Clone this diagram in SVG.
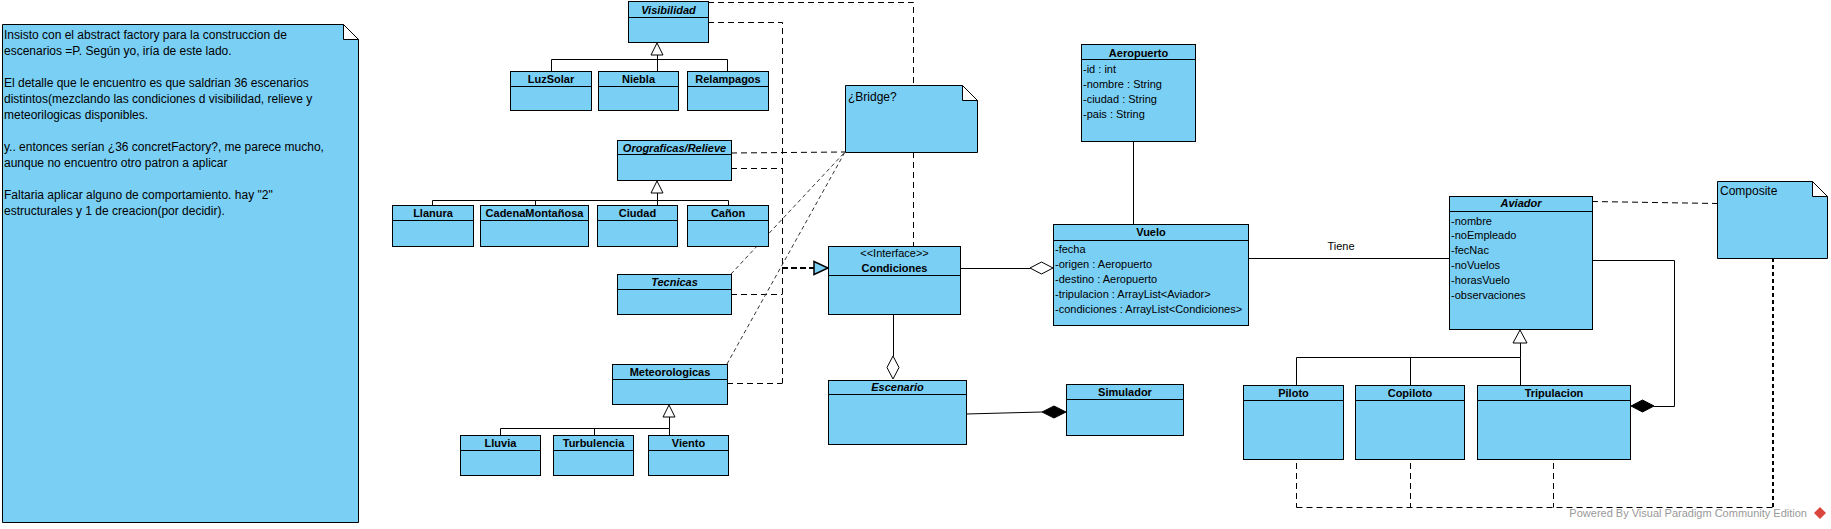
<svg xmlns="http://www.w3.org/2000/svg" width="1831" height="529" viewBox="0 0 1831 529">
<style>
.box{fill:#7ACFF5;stroke:#000;stroke-width:1}
.hl{stroke:#000;stroke-width:1;fill:none}
.t{font-family:"Liberation Sans",Arial,sans-serif;font-size:11px;fill:#000}
.b{font-weight:bold;text-anchor:middle}
.i{font-style:italic}
.n{font-size:12px}
.ln{fill:none;stroke:#000;stroke-width:1}
.ds{fill:none;stroke:#000;stroke-width:1;stroke-dasharray:6,4}
.dt{fill:none;stroke:#333;stroke-width:1;stroke-dasharray:4,3}
.tri{fill:#fff;stroke:#000;stroke-width:1}
.hd{fill:#fff;stroke:#000;stroke-width:1}
.fd{fill:#000;stroke:#000;stroke-width:1}
.flap{fill:#fff;stroke:#000;stroke-width:1}
</style>
<rect width="1831" height="529" fill="#fff"/>

<g id="connectors">
  <!-- generalizations -->
  <polygon class="tri" points="657,43 651,55 663,55"/>
  <path class="ln" d="M657.5,55 V59.5 M551.5,59.5 H727.5 M551.5,59.5 V71 M657.5,59.5 V71 M727.5,59.5 V71"/>
  <polygon class="tri" points="657,181 651,193 663,193"/>
  <path class="ln" d="M657.5,193 V200.5 M432.5,200.5 H728.5 M432.5,200.5 V205 M535.5,200.5 V205 M657.5,200.5 V205 M728.5,200.5 V205"/>
  <polygon class="tri" points="669,405 663,417 675,417"/>
  <path class="ln" d="M669.5,417 V428.5 M500.5,428.5 H669.5 M500.5,428.5 V435 M594.5,428.5 V435 M669.5,428.5 V435"/>
  <polygon class="tri" points="1520,330 1513,343 1527,343"/>
  <path class="ln" d="M1520.5,343 V357.5 M1296.5,357.5 H1520.5 M1296.5,357.5 V385 M1410.5,357.5 V385 M1520.5,357.5 V385"/>
  <!-- dependencies to Condiciones / Bridge -->
  <path class="ds" d="M708,2.5 H913.5 V85 M913.5,152 V246"/>
  <path class="ds" d="M708,22.5 H782.5 V383"/>
  <path class="ds" d="M731,153 L845,152"/>
  <path class="ds" d="M731,168.5 H782.5"/>
  <path class="ds" d="M731,294.5 H782.5"/>
  <path class="ds" d="M727,383.5 H782.5"/>
  <path class="dt" d="M731,274 L845,152 M727,364 L845,152"/>
  <path fill="none" stroke="#000" stroke-width="2" stroke-dasharray="6,3" d="M782,268 H814"/>
  <polygon points="814,261.5 828,268 814,274.5" fill="#7ACFF5" stroke="#000" stroke-width="1.5"/>
  <!-- associations -->
  <path class="ln" d="M960,268.5 H1030"/>
  <polygon class="hd" points="1030,268 1041.5,262 1053,268 1041.5,274"/>
  <path class="ln" d="M893.5,314 V356"/>
  <polygon class="hd" points="893,356 899,367.5 893,379 887,367.5"/>
  <path class="ln" d="M966,414 L1042,412"/>
  <polygon class="fd" points="1042,412 1054,406 1066,412 1054,418"/>
  <path class="ln" d="M1133.5,141 V224"/>
  <path class="ln" d="M1248,258.5 H1449"/>
  <text class="t" x="1341" y="250" text-anchor="middle">Tiene</text>
  <path class="ln" d="M1592,260.5 H1674.5 V406.5 H1654"/>
  <polygon class="fd" points="1631,406 1642.5,400 1654,406 1642.5,412"/>
  <!-- composite note links -->
  <path class="ds" d="M1592,201.5 L1717,203.5"/>
  <path fill="none" stroke="#000" stroke-width="2" stroke-dasharray="4,3" d="M1773,258 V507"/>
  <path class="ds" d="M1296.5,507.5 H1773 M1296.5,463 V507.5 M1410.5,463 V507.5 M1553.5,463 V507.5"/>
</g>

<g id="note-main">
  <path class="box" d="M2.5,24.5 H343.5 L358.5,39.5 V522.5 H2.5 Z"/>
  <path class="flap" d="M343.5,24.5 V39.5 H358.5 Z"/>
  <text class="t n" x="4" y="39">Insisto con el abstract factory para la construccion de</text>
  <text class="t n" x="4" y="55">escenarios =P. Según yo, iría de este lado.</text>
  <text class="t n" x="4" y="87">El detalle que le encuentro es que saldrian 36 escenarios</text>
  <text class="t n" x="4" y="103">distintos(mezclando las condiciones d visibilidad, relieve y</text>
  <text class="t n" x="4" y="119">meteorilogicas disponibles.</text>
  <text class="t n" x="4" y="151">y.. entonces serían ¿36 concretFactory?, me parece mucho,</text>
  <text class="t n" x="4" y="167">aunque no encuentro otro patron a aplicar</text>
  <text class="t n" x="4" y="199">Faltaria aplicar alguno de comportamiento. hay "2"</text>
  <text class="t n" x="4" y="215">estructurales y 1 de creacion(por decidir).</text>
</g>

<g id="note-bridge">
  <path class="box" d="M845.5,85.5 H962.5 L977.5,100.5 V152.5 H845.5 Z"/>
  <path class="flap" d="M962.5,85.5 V100.5 H977.5 Z"/>
  <text class="t n" x="848" y="101">¿Bridge?</text>
</g>

<g id="note-composite">
  <path class="box" d="M1717.5,181.5 H1812.5 L1827.5,196.5 V258.5 H1717.5 Z"/>
  <path class="flap" d="M1812.5,181.5 V196.5 H1827.5 Z"/>
  <text class="t n" x="1720" y="195">Composite</text>
</g>

<g id="Visibilidad">
  <rect class="box" x="628.5" y="1.5" width="80" height="41"/>
  <path class="hl" d="M628.5,17.5 H708.5"/>
  <text class="t b i" x="668.5" y="14">Visibilidad</text>
</g>
<g id="LuzSolar">
  <rect class="box" x="510.5" y="71.5" width="81" height="39"/>
  <path class="hl" d="M510.5,86.5 H591.5"/>
  <text class="t b" x="551" y="83">LuzSolar</text>
</g>
<g id="Niebla">
  <rect class="box" x="598.5" y="71.5" width="80" height="39"/>
  <path class="hl" d="M598.5,86.5 H678.5"/>
  <text class="t b" x="638.5" y="83">Niebla</text>
</g>
<g id="Relampagos">
  <rect class="box" x="687.5" y="71.5" width="81" height="39"/>
  <path class="hl" d="M687.5,86.5 H768.5"/>
  <text class="t b" x="728" y="83">Relampagos</text>
</g>

<g id="Orograficas">
  <rect class="box" x="617.5" y="140.5" width="114" height="40"/>
  <path class="hl" d="M617.5,154.5 H731.5"/>
  <text class="t b i" x="674.5" y="152">Orograficas/Relieve</text>
</g>
<g id="Llanura">
  <rect class="box" x="392.5" y="205.5" width="81" height="41"/>
  <path class="hl" d="M392.5,220.5 H473.5"/>
  <text class="t b" x="433" y="217">Llanura</text>
</g>
<g id="CadenaMontanosa">
  <rect class="box" x="480.5" y="205.5" width="108" height="41"/>
  <path class="hl" d="M480.5,220.5 H588.5"/>
  <text class="t b" x="534.5" y="217">CadenaMontañosa</text>
</g>
<g id="Ciudad">
  <rect class="box" x="597.5" y="205.5" width="80" height="41"/>
  <path class="hl" d="M597.5,220.5 H677.5"/>
  <text class="t b" x="637.5" y="217">Ciudad</text>
</g>
<g id="Canon">
  <rect class="box" x="687.5" y="205.5" width="81" height="41"/>
  <path class="hl" d="M687.5,220.5 H768.5"/>
  <text class="t b" x="728" y="217">Cañon</text>
</g>

<g id="Tecnicas">
  <rect class="box" x="617.5" y="274.5" width="114" height="40"/>
  <path class="hl" d="M617.5,289.5 H731.5"/>
  <text class="t b i" x="674.5" y="286">Tecnicas</text>
</g>

<g id="Meteorologicas">
  <rect class="box" x="612.5" y="364.5" width="115" height="40"/>
  <path class="hl" d="M612.5,379.5 H727.5"/>
  <text class="t b" x="670" y="376">Meteorologicas</text>
</g>
<g id="Lluvia">
  <rect class="box" x="460.5" y="435.5" width="80" height="40"/>
  <path class="hl" d="M460.5,450.5 H540.5"/>
  <text class="t b" x="500.5" y="447">Lluvia</text>
</g>
<g id="Turbulencia">
  <rect class="box" x="553.5" y="435.5" width="80" height="40"/>
  <path class="hl" d="M553.5,450.5 H633.5"/>
  <text class="t b" x="593.5" y="447">Turbulencia</text>
</g>
<g id="Viento">
  <rect class="box" x="648.5" y="435.5" width="80" height="40"/>
  <path class="hl" d="M648.5,450.5 H728.5"/>
  <text class="t b" x="688.5" y="447">Viento</text>
</g>

<g id="Condiciones">
  <rect class="box" x="828.5" y="246.5" width="132" height="68"/>
  <path class="hl" d="M828.5,275.5 H960.5"/>
  <text class="t" x="894.5" y="257" text-anchor="middle">&lt;&lt;Interface&gt;&gt;</text>
  <text class="t b" x="894.5" y="272">Condiciones</text>
</g>

<g id="Escenario">
  <rect class="box" x="828.5" y="380.5" width="138" height="64"/>
  <path class="hl" d="M828.5,394.5 H966.5"/>
  <text class="t b i" x="897.5" y="391">Escenario</text>
</g>

<g id="Simulador">
  <rect class="box" x="1066.5" y="384.5" width="117" height="51"/>
  <path class="hl" d="M1066.5,399.5 H1183.5"/>
  <text class="t b" x="1125" y="396">Simulador</text>
</g>

<g id="Aeropuerto">
  <rect class="box" x="1081.5" y="44.5" width="114" height="97"/>
  <path class="hl" d="M1081.5,59.5 H1195.5"/>
  <text class="t b" x="1138.5" y="57">Aeropuerto</text>
  <text class="t" x="1083" y="73">-id : int</text>
  <text class="t" x="1083" y="88">-nombre : String</text>
  <text class="t" x="1083" y="103">-ciudad : String</text>
  <text class="t" x="1083" y="118">-pais : String</text>
</g>

<g id="Vuelo">
  <rect class="box" x="1053.5" y="224.5" width="195" height="101"/>
  <path class="hl" d="M1053.5,240.5 H1248.5"/>
  <text class="t b" x="1151" y="236">Vuelo</text>
  <text class="t" x="1055" y="253">-fecha</text>
  <text class="t" x="1055" y="268">-origen : Aeropuerto</text>
  <text class="t" x="1055" y="283">-destino : Aeropuerto</text>
  <text class="t" x="1055" y="298">-tripulacion : ArrayList&lt;Aviador&gt;</text>
  <text class="t" x="1055" y="313">-condiciones : ArrayList&lt;Condiciones&gt;</text>
</g>

<g id="Aviador">
  <rect class="box" x="1449.5" y="196.5" width="143" height="133"/>
  <path class="hl" d="M1449.5,211.5 H1592.5"/>
  <text class="t b i" x="1521" y="207">Aviador</text>
  <text class="t" x="1451" y="225">-nombre</text>
  <text class="t" x="1451" y="239">-noEmpleado</text>
  <text class="t" x="1451" y="254">-fecNac</text>
  <text class="t" x="1451" y="269">-noVuelos</text>
  <text class="t" x="1451" y="284">-horasVuelo</text>
  <text class="t" x="1451" y="299">-observaciones</text>
</g>

<g id="Piloto">
  <rect class="box" x="1243.5" y="385.5" width="100" height="74"/>
  <path class="hl" d="M1243.5,400.5 H1343.5"/>
  <text class="t b" x="1293.5" y="397">Piloto</text>
</g>
<g id="Copiloto">
  <rect class="box" x="1355.5" y="385.5" width="109" height="74"/>
  <path class="hl" d="M1355.5,400.5 H1464.5"/>
  <text class="t b" x="1410" y="397">Copiloto</text>
</g>
<g id="Tripulacion">
  <rect class="box" x="1477.5" y="385.5" width="153" height="74"/>
  <path class="hl" d="M1477.5,400.5 H1630.5"/>
  <text class="t b" x="1554" y="397">Tripulacion</text>
</g>

<g id="watermark">
  <text class="t" x="1807" y="517" text-anchor="end" fill="#999" style="fill:#999">Powered By  Visual Paradigm Community Edition</text>
  <polygon points="1820,507 1826,513 1820,519 1814,513" fill="#d9463b"/>
</g>
</svg>
